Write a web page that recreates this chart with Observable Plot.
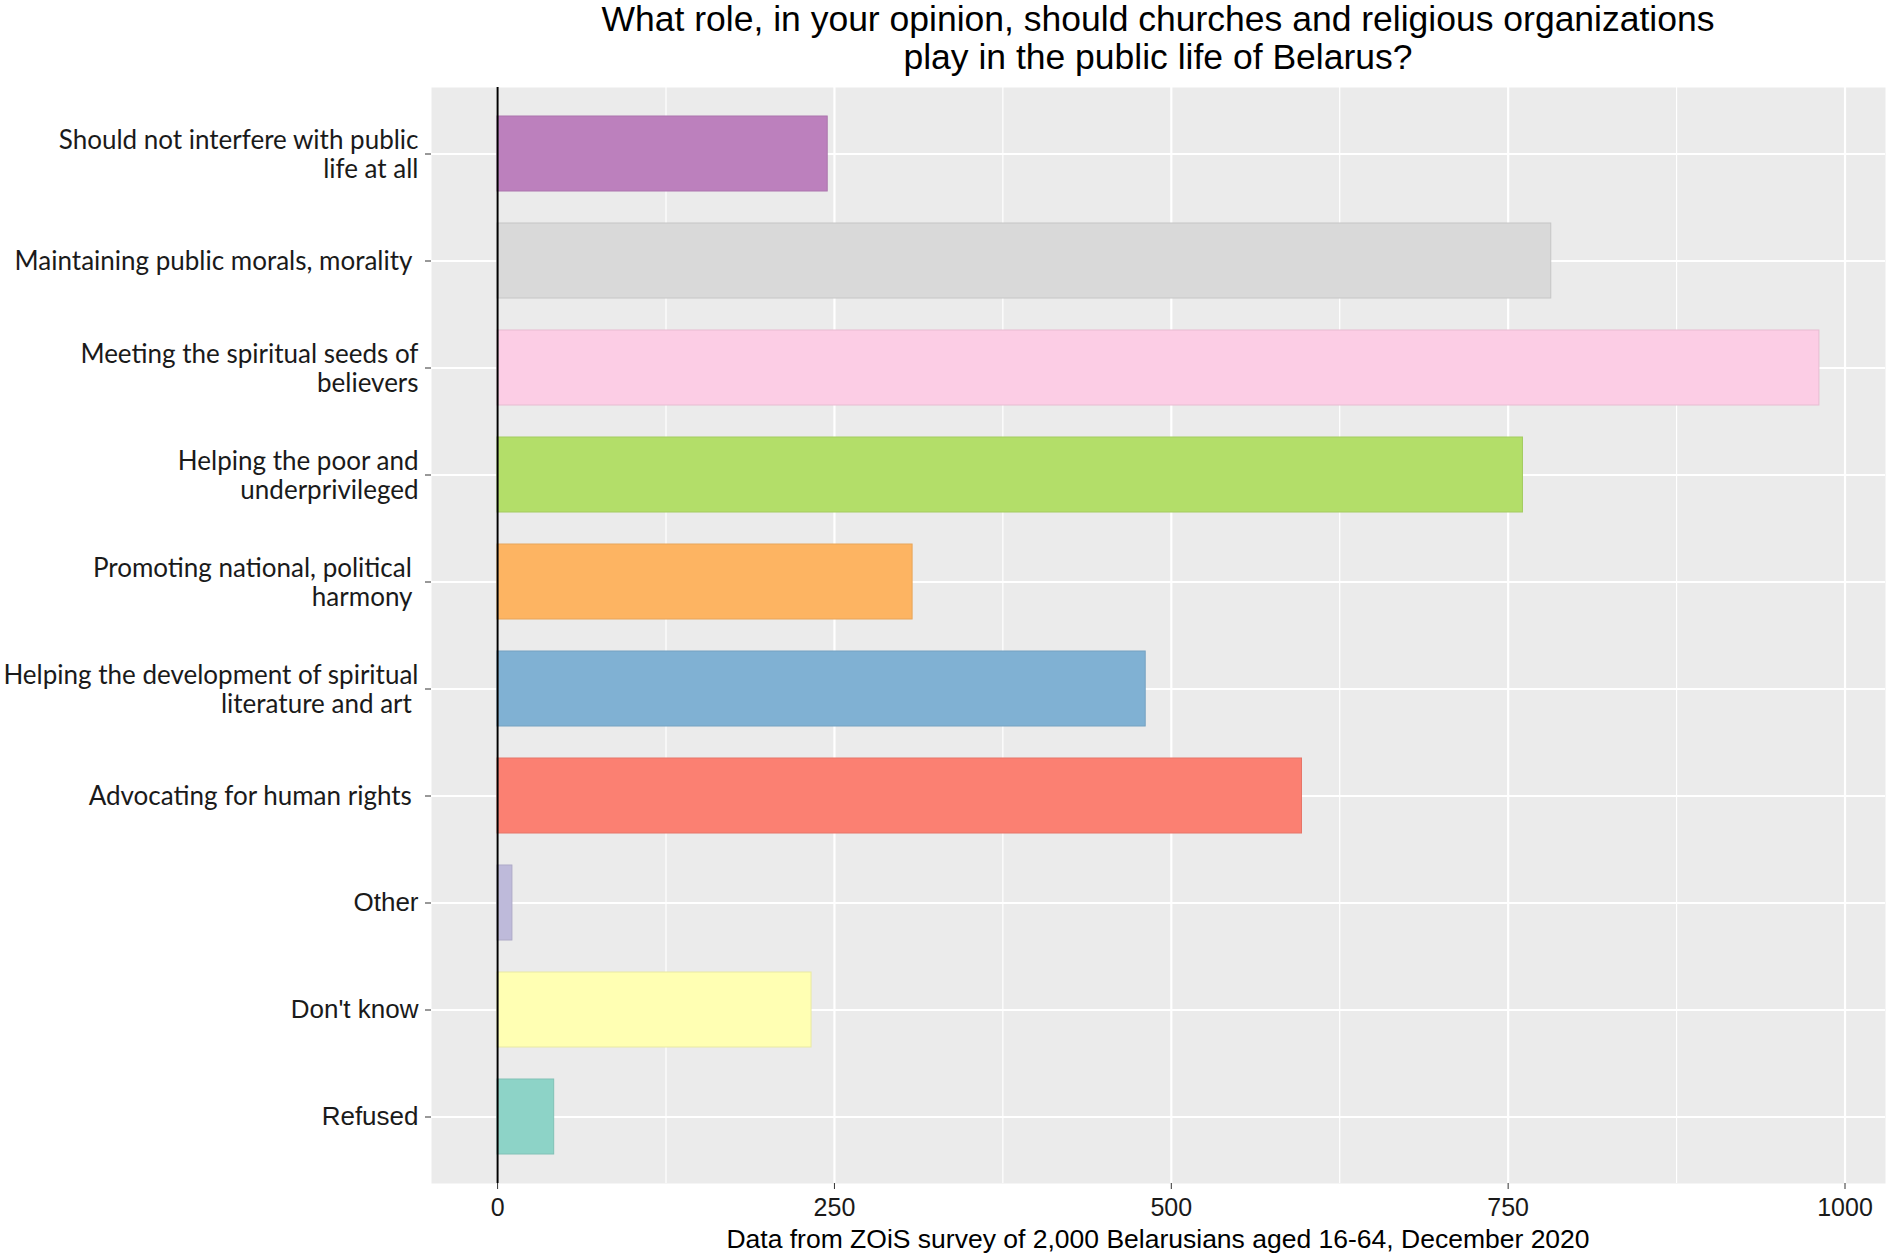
<!DOCTYPE html>
<html>
<head>
<meta charset="utf-8">
<script src="https://cdn.jsdelivr.net/npm/d3@7"></script>
<script src="https://cdn.jsdelivr.net/npm/@observablehq/plot@0.6"></script>
<style>
  body { margin: 0; background: #fff; width: 1890px; height: 1256px; overflow: hidden; }
  #title {
    margin-left: 431px; width: 1454px; height: 87px; text-align: center;
    font: 35.5px/38px "Liberation Sans", Arial, sans-serif; color: #000;
  }
  #caption {
    margin-left: 431px; width: 1454px; text-align: center; margin-top: -2px;
    font: 26.5px/28px "Liberation Sans", Arial, sans-serif; color: #000;
  }
  #chart svg { display: block; }
  #chart svg text { white-space: pre; }
</style>
</head>
<body>
<div id="title">What role, in your opinion, should churches and religious organizations<br>play in the public life of Belarus?</div>
<div id="chart"></div>
<div id="caption">Data from ZOiS survey of 2,000 Belarusians aged 16-64, December 2020</div>
<script>
"use strict";

// answer categories, top to bottom
const categories = [
  "Should not interfere with public life at all",
  "Maintaining public morals, morality",
  "Meeting the spiritual seeds of believers",
  "Helping the poor and underprivileged",
  "Promoting national, political harmony",
  "Helping the development of spiritual literature and art",
  "Advocating for human rights",
  "Other",
  "Don't know",
  "Refused",
];
// axis text as it is broken in the picture (trailing spaces kept)
const tickLabels = [
  "Should not interfere with public\nlife at all",
  "Maintaining public morals, morality ",
  "Meeting the spiritual seeds of\nbelievers",
  "Helping the poor and\nunderprivileged",
  "Promoting national, political \nharmony ",
  "Helping the development of spiritual\nliterature and art ",
  "Advocating for human rights ",
  "Other",
  "Don't know",
  "Refused",
];
const counts = [245, 782, 981, 761, 308, 481, 597, 11, 233, 42];
// the last three labels were left in the plain ggplot font
const plainLabels = ["Other", "Don't know", "Refused"];

const xTicks = [0, 250, 500, 750, 1000];
const xMinor = [125, 375, 625, 875];

// ColorBrewer Set3, one per answer
const FILL = {
  "Should not interfere with public life at all": "#BC80BD",
  "Maintaining public morals, morality": "#D9D9D9",
  "Meeting the spiritual seeds of believers": "#FCCDE5",
  "Helping the poor and underprivileged": "#B3DE69",
  "Promoting national, political harmony": "#FDB462",
  "Helping the development of spiritual literature and art": "#80B1D3",
  "Advocating for human rights": "#FB8072",
  "Other": "#BEBADA",
  "Don't know": "#FFFFB3",
  "Refused": "#8DD3C7",
};

const rows = categories.map((c, i) => ({ cat: c, label: tickLabels[i], n: counts[i] }));
const maxN = d3.max(counts);
const pad = maxN * 0.05; // ggplot default expansion

const textRows = rows.filter((d) => !plainLabels.includes(d.cat));
const plainRows = rows.filter((d) => plainLabels.includes(d.cat));

const chart = Plot.plot({
  width: 1890, height: 1140,
  marginLeft: 431, marginRight: 5, marginTop: 0, marginBottom: 44,
  style: { fontFamily: "'Liberation Sans', Arial, sans-serif", fontSize: "25px", color: "#1a1a1a", background: "transparent" },
  x: { domain: [-pad, maxN + pad], label: null },
  y: { domain: categories, paddingInner: 0.3, paddingOuter: 0.25, label: null },
  marks: [
    Plot.frame({ fill: "#EBEBEB", stroke: null }),
    Plot.gridX(xMinor, { stroke: "#fff", strokeOpacity: 1, strokeWidth: 1.2 }),
    Plot.gridX(xTicks, { stroke: "#fff", strokeOpacity: 1, strokeWidth: 2.2 }),
    Plot.gridY(categories, { stroke: "#fff", strokeOpacity: 1, strokeWidth: 2.2 }),
    Plot.barX(rows, {
      x: "n", y: "cat",
      fill: (d) => FILL[d.cat],
      stroke: (d) => d3.color(FILL[d.cat]).darker(0.25).formatHex(),
      strokeWidth: 1,
    }),
    Plot.ruleX([0], { stroke: "#000", strokeWidth: 2 }),
    Plot.axisX(xTicks, {
      tickSize: 6, tickPadding: 9, stroke: "#333", label: null, fontSize: 25,
      tickFormat: d3.format("d"),
    }),
    Plot.axisY({ tickSize: 6, tickFormat: () => "", stroke: "#333", label: null }),
    Plot.text(textRows, {
      y: "cat", text: "label", frameAnchor: "left", dx: -13, textAnchor: "end",
      lineAnchor: "middle", lineHeight: 1.13, fill: "#1a1a1a",
      fontFamily: "Lato, 'Open Sans', sans-serif", fontSize: 26,
    }),
    Plot.text(plainRows, {
      y: "cat", text: "label", frameAnchor: "left", dx: -13, textAnchor: "end",
      lineAnchor: "middle", fill: "#1a1a1a", fontSize: 26,
    }),
  ],
});
document.getElementById("chart").appendChild(chart);
</script>
</body>
</html>
